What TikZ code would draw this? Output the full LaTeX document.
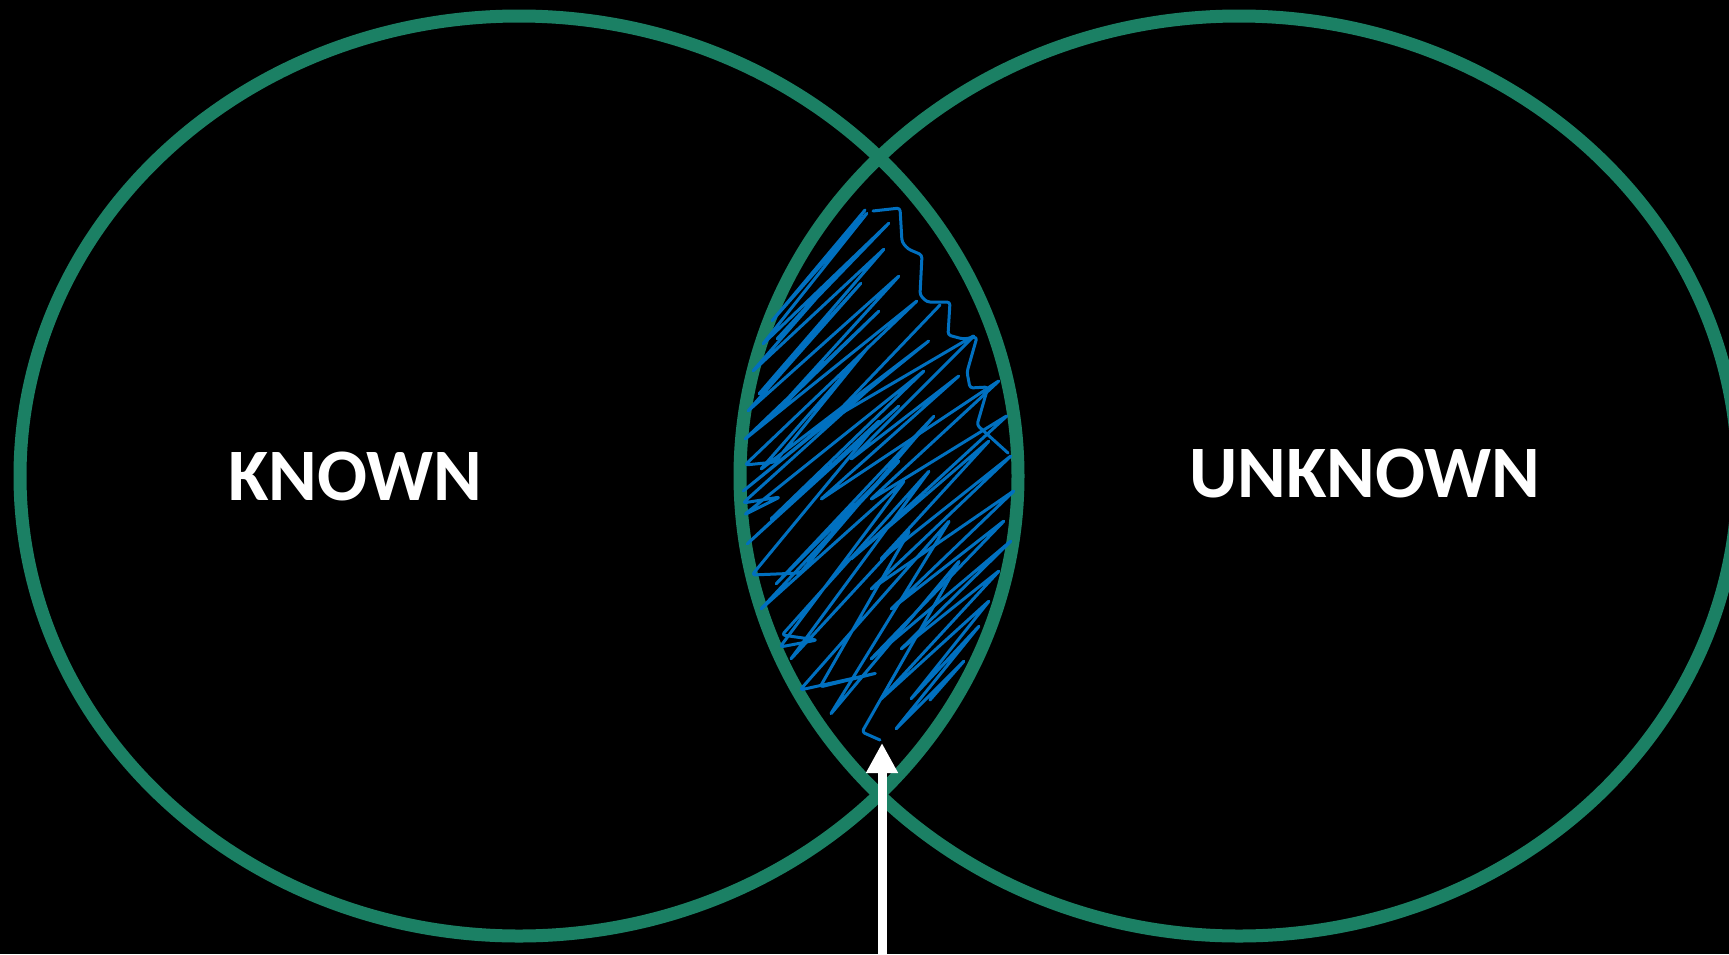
\documentclass[tikz,border=0pt]{standalone}
\usepackage{fontspec}
\setmainfont{Carlito}
\usetikzlibrary{arrows.meta}
\definecolor{venngreen}{RGB}{27,128,100}
\definecolor{scribbleblue}{RGB}{0,112,192}
\tikzset{
  vennring/.style={draw=venngreen, line width=13pt},
  scribble/.style={draw=scribbleblue, line width=3pt, line cap=round, line join=round, rounded corners=3pt},
  label/.style={text=white, inner sep=0pt, font=\fontsize{74}{80}\selectfont\bfseries},
  pointer/.style={draw=white, line width=9pt, -{Triangle[width=30pt,length=30pt]}}
}
\begin{document}
\begin{tikzpicture}[x=1pt,y=-1pt]
\fill[black] (0,0) rectangle (1729,954);
\useasboundingbox (0,0) rectangle (1729,954);
\clip (0,0) rectangle (1729,954);
% circles
\coordinate (cl) at (519,476);
\coordinate (cr) at (1239,476);
\draw[vennring] (cl) ellipse [x radius=499pt, y radius=460pt];
\draw[vennring] (cr) ellipse [x radius=499pt, y radius=460pt];
% scribble: wavy right edge at the top
\draw[scribble] (873,211) -- (900,208) -- (902,242) -- (908,249) -- (922,255) -- (920,295) -- (927,302) -- (950,302) -- (948,335) -- (963,339) -- (977,337) -- (967,372) -- (970,388) -- (988,387) -- (977,425) -- (1008,453);
% scribble: upper-left band
\draw[scribble] (865,210) -- (771,322) -- (868,212) -- (762,345) -- (890,222) -- (776,340) -- (848,262) -- (752,372) -- (885,248) -- (758,395) -- (862,282) -- (747,412) -- (900,275) -- (768,420) -- (880,310) -- (744,440) -- (918,300) -- (745,465) -- (775,462) -- (870,345) -- (760,470) -- (930,340) -- (742,492) -- (888,372) -- (743,503) -- (780,497) -- (744,515) -- (925,370) -- (770,520) -- (900,405) -- (746,545) -- (880,420) -- (752,575) -- (800,573) -- (935,415) -- (775,585) -- (900,460) -- (760,610) -- (905,480) -- (780,647) -- (817,640) -- (782,635) -- (930,470) -- (790,660) -- (910,530) -- (820,687) -- (877,673) -- (800,690) -- (950,520) -- (830,715) -- (960,560) -- (862,732) -- (880,740);
% scribble: lower-right band
\draw[scribble] (940,305) -- (830,420) -- (975,335) -- (850,460) -- (960,375) -- (820,500) -- (1000,380) -- (870,500) -- (1008,415) -- (850,560) -- (990,440) -- (880,560) -- (1012,455) -- (870,590) -- (1015,490) -- (890,610) -- (1005,520) -- (870,660) -- (1012,540) -- (900,650) -- (1000,570) -- (880,700) -- (990,600) -- (910,700) -- (980,625) -- (895,730) -- (965,660) -- (930,700);
% labels
\node[label] (known) at (355.5,476.5) {KNOWN};
\node[label] (unknown) at (1365,473.5) {UNKNOWN};
% arrow
\coordinate (arrowstart) at (882,960);
\coordinate (arrowtip) at (882,743);
\draw[pointer] (arrowstart) -- (arrowtip);
\end{tikzpicture}
\end{document}
